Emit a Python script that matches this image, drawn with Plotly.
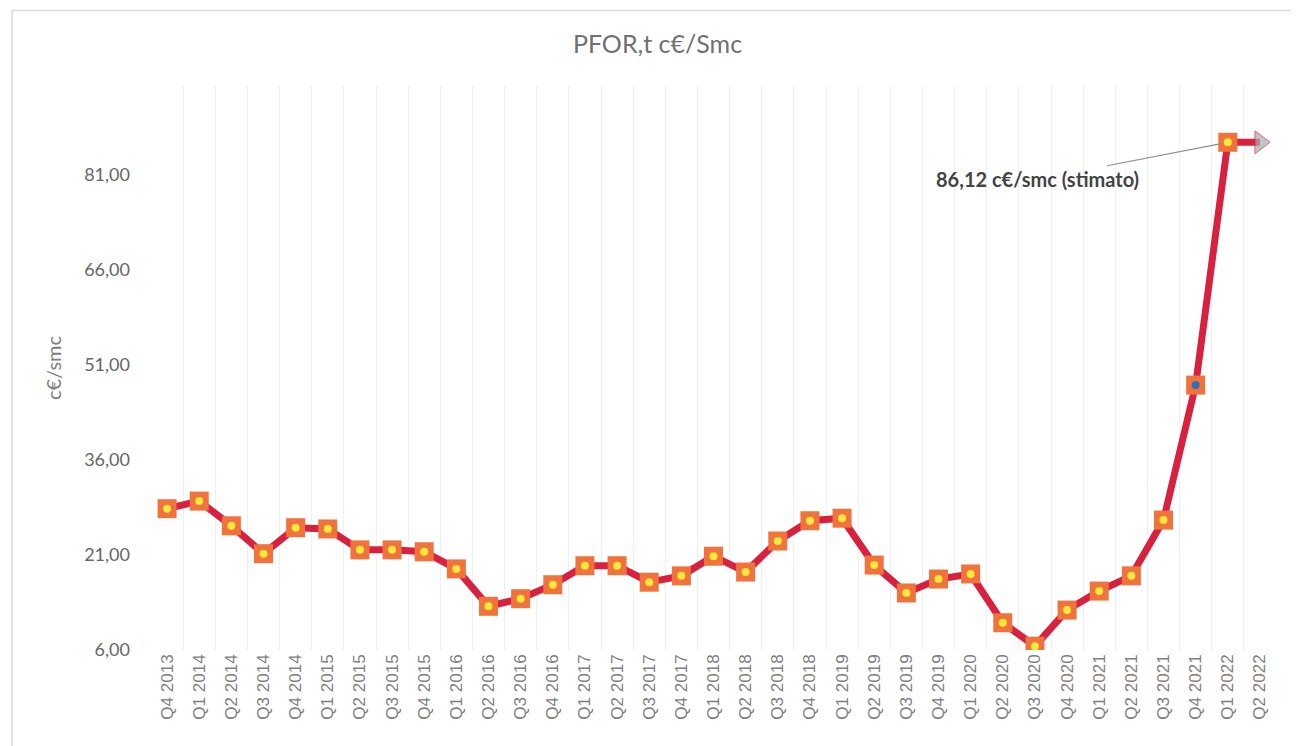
import plotly.graph_objects as go

quarters = ["Q4 2013", "Q1 2014", "Q2 2014", "Q3 2014", "Q4 2014", "Q1 2015", "Q2 2015",
            "Q3 2015", "Q4 2015", "Q1 2016", "Q2 2016", "Q3 2016", "Q4 2016", "Q1 2017",
            "Q2 2017", "Q3 2017", "Q4 2017", "Q1 2018", "Q2 2018", "Q3 2018", "Q4 2018",
            "Q1 2019", "Q2 2019", "Q3 2019", "Q4 2019", "Q1 2020", "Q2 2020", "Q3 2020",
            "Q4 2020", "Q1 2021", "Q2 2021", "Q3 2021", "Q4 2021", "Q1 2022", "Q2 2022"]
pfor = [28.3, 29.5, 25.6, 21.2, 25.3, 25.1, 21.8, 21.8, 21.5, 18.8, 12.9, 14.1, 16.3, 19.3,
        19.3, 16.7, 17.7, 20.8, 18.3, 23.2, 26.4, 26.8, 19.4, 15.0, 17.2, 18.0, 10.3, 6.6,
        12.3, 15.3, 17.7, 26.5, 47.8, 86.12, None]
estimate_x = ["Q1 2022", "Q2 2022"]
estimate_y = [86.12, 86.12]
dot_colors = ["#ffe83a"] * 32 + ["#2f6fb5", "#ffe83a", "#ffe83a"]
y_ticks = [6, 21, 36, 51, 66, 81]
y_tick_text = ["6,00", "21,00", "36,00", "51,00", "66,00", "81,00"]

fig = go.Figure()
fig.add_trace(go.Scatter(
    x=estimate_x, y=estimate_y, mode="lines+markers",
    line=dict(color="#d7213f", width=7),
    marker=dict(symbol=["square", "triangle-right"], size=[1, 20], color="#a8adb0"),
    showlegend=False, hoverinfo="skip"))
fig.add_trace(go.Scatter(
    x=quarters, y=pfor, mode="lines+markers",
    line=dict(color="#d7213f", width=7),
    marker=dict(symbol="square", size=19, color="#f0723c", line=dict(width=0)),
    showlegend=False))
fig.add_trace(go.Scatter(
    x=quarters, y=pfor, mode="markers",
    marker=dict(symbol="circle", size=8, color=dot_colors),
    showlegend=False, hoverinfo="skip"))

fig.add_annotation(
    x="Q1 2022", y=86.12, ax=-190, ay=37, xref="x", yref="y",
    text="<b>86,12 c€/smc (stimato)</b>", showarrow=True, arrowhead=0, arrowwidth=1.2,
    arrowcolor="#8a8f92", standoff=8,
    font=dict(family="Lato, Open Sans, sans-serif", size=20, color="#444"))

fig.add_shape(type="rect", xref="paper", yref="paper", x0=-0.1235, x1=1.0204, y0=-0.2, y1=1.134,
              line=dict(color="#d9d9d9", width=1.5))

fig.update_layout(
    width=1299, height=746,
    margin=dict(l=143, r=31, t=78, b=104),
    paper_bgcolor="white", plot_bgcolor="white",
    title=dict(text="PFOR,t c€/Smc", x=0.5, xanchor="center", y=0.951, yanchor="middle",
               font=dict(family="Lato, Open Sans, sans-serif", size=25, color="#707070")),
    xaxis=dict(type="category", categoryorder="array", categoryarray=quarters,
               tickangle=-90, tickson="boundaries", showgrid=True, gridcolor="#f0f0f0",
               gridwidth=1, ticks="", showline=False, zeroline=False,
               tickfont=dict(family="Liberation Sans, Arial, sans-serif", size=17, color="#808080"),
               range=[-0.5, 34.5]),
    yaxis=dict(range=[6, 95], tickvals=y_ticks, ticktext=y_tick_text, showgrid=False,
               zeroline=False, showline=False, ticklabelstandoff=20,
               tickfont=dict(family="Lato, Open Sans, sans-serif", size=18, color="#666"),
               title=dict(text="c€/smc", standoff=17,
                          font=dict(family="Lato, Open Sans, sans-serif", size=20, color="#808080"))),
)

fig.write_html("out.html")
